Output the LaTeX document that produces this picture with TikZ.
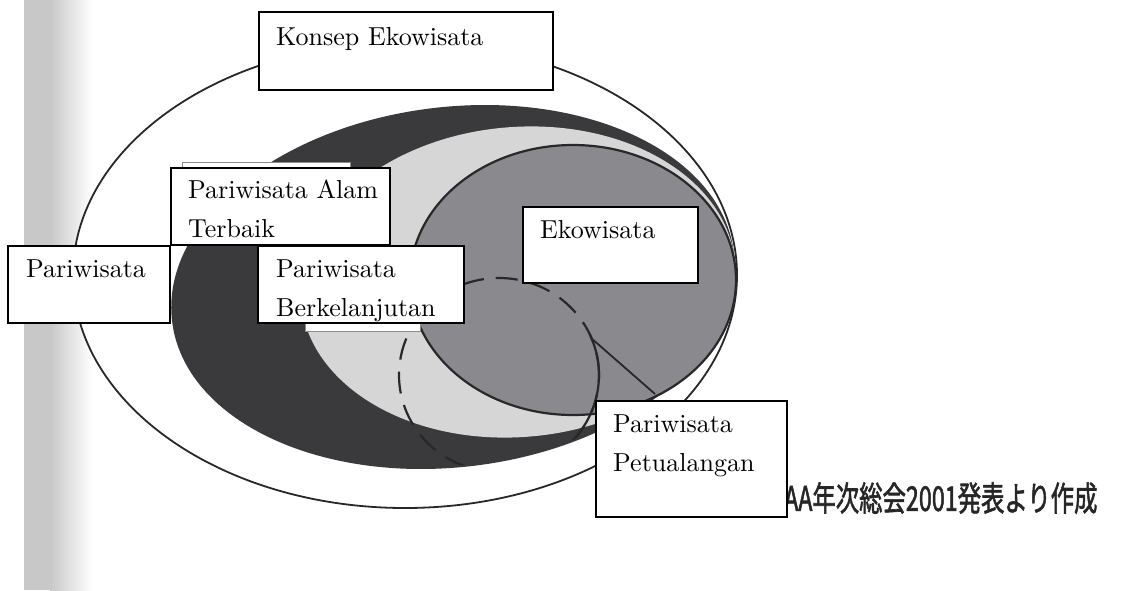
\documentclass[tikz,border=0pt]{standalone}
\usepackage{fontspec}
\usepackage{graphicx}
\newfontfamily\cjk[FakeBold=2]{Noto Sans CJK JP}
\newfontfamily\labelfont{lmroman10-regular.otf}
\usetikzlibrary{calc}
\definecolor{stripgray}{RGB}{200,200,200}
\definecolor{darkfill}{RGB}{58,58,60}
\definecolor{lightfill}{RGB}{214,214,214}
\definecolor{ekofill}{RGB}{138,138,142}
\definecolor{edge}{RGB}{40,40,40}
\begin{document}
\begin{tikzpicture}[x=1pt,y=-1pt,
  lbox/.style={draw=black, line width=1.6pt, fill=white, rectangle, inner sep=0pt, outer sep=0pt},
  ltext/.style={font=\labelfont\fontsize{26}{39}\selectfont, anchor=base west, inner sep=0pt},
  jp/.style={font=\cjk\fontsize{34}{40}\selectfont, text=black!85, anchor=west, inner sep=0pt},
  outline/.style={draw=edge, line width=1.8pt},
  advline/.style={draw=edge, line width=2.2pt},
]
\useasboundingbox (0,0) rectangle (1128,590);
\fill[white] (0,0) rectangle (1128,590);
% scanned page edge
\fill[stripgray] (24,0) rectangle (50,590);
\shade[left color=stripgray, right color=white] (50,0) rectangle (92,590);

% outer ellipse (Konsep Ekowisata)
\fill[white] (405,275) ellipse [x radius=332pt, y radius=233pt];
% dark ellipse
\fill[darkfill, rotate around={7:(453,287)}] (453,287) ellipse [x radius=283pt, y radius=180pt];
% light ring
\fill[lightfill, rotate around={5:(518,282)}] (518,282) ellipse [x radius=218pt, y radius=155pt];
% Ekowisata ellipse
\draw[outline, line width=2.2pt, fill=ekofill] (573,280) ellipse [x radius=163pt, y radius=135pt];
% adventure tourism shape
\begin{scope}
  \clip[rotate around={7:(453,287)}] (453,287) ellipse [x radius=281pt, y radius=178pt];
  \draw[advline, dash pattern=on 22pt off 12pt] (499,375) ellipse [x radius=100pt, y radius=97pt];
  \draw[advline] (589.6,334) arc [start angle=25, end angle=-50, x radius=100pt, y radius=97pt];
\end{scope}
\coordinate (advTip) at (591,338);
\coordinate (advEnd) at (655,394);
\draw[advline, line width=1.8pt] (advTip) -- (advEnd);
% outer outline on top
\draw[outline] (405,275) ellipse [x radius=332pt, y radius=233pt];

% remnants of the original labels
\draw[fill=white, draw=black!45, line width=1pt] (182,162) rectangle (350,200);
\draw[fill=white, draw=black!45, line width=1pt] (305,300) rectangle (420,331);

% source note
\node[jp] (source) at (784,498) {\scalebox{0.687}[1]{AA年次総会2001発表より作成}};

% label boxes
\node[lbox, minimum width=294pt, minimum height=78pt] (konsep) at (406,51) {};
\node[ltext] (konsepT) at ($(konsep.north west)+(17,33)$) {Konsep Ekowisata};

\node[lbox, minimum width=219pt, minimum height=77pt] (alam) at (280.5,206.5) {};
\node[ltext] (alamT1) at ($(alam.north west)+(17,30)$) {Pariwisata Alam};
\node[ltext] (alamT2) at ($(alam.north west)+(17,69)$) {Terbaik};

\node[lbox, minimum width=162pt, minimum height=77pt] (pari) at (89,284.5) {};
\node[ltext] (pariT) at ($(pari.north west)+(18,31)$) {Pariwisata};

\node[lbox, minimum width=206pt, minimum height=77pt] (berk) at (361,284.5) {};
\node[ltext] (berkT1) at ($(berk.north west)+(18,31)$) {Pariwisata};
\node[ltext] (berkT2) at ($(berk.north west)+(18,70)$) {Berkelanjutan};

\node[lbox, minimum width=175pt, minimum height=76pt] (eko) at (610.5,245) {};
\node[ltext] (ekoT) at ($(eko.north west)+(17,31)$) {Ekowisata};

\node[lbox, minimum width=191pt, minimum height=116pt] (petu) at (691.5,459) {};
\node[ltext] (petuT1) at ($(petu.north west)+(17,31)$) {Pariwisata};
\node[ltext] (petuT2) at ($(petu.north west)+(17,70)$) {Petualangan};
\end{tikzpicture}
\end{document}
